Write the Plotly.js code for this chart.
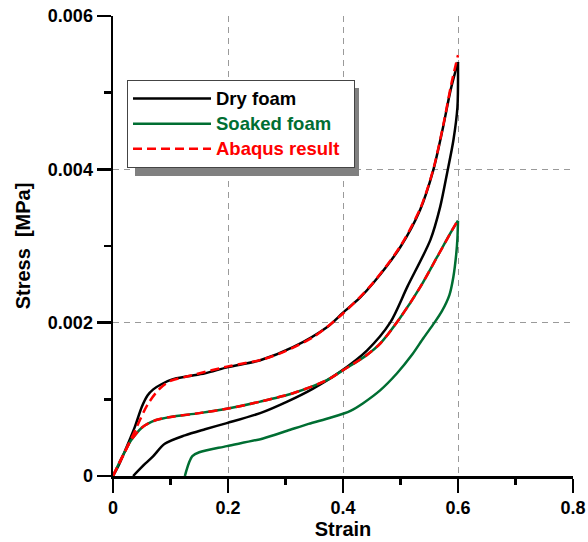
<!DOCTYPE html>
<html>
<head>
<meta charset="utf-8">
<script src="https://cdn.plot.ly/plotly-3.0.1.min.js"></script>
<style>html,body{margin:0;padding:0;background:#fff;}#chart{width:588px;height:542px;}</style>
</head>
<body>
<div id="chart"></div>
<script>
// ---- data ----
const dryLoadStrain   = [0, 0.01, 0.021, 0.038, 0.05, 0.06, 0.07, 0.085, 0.103, 0.13, 0.16, 0.2, 0.256, 0.313, 0.372, 0.4, 0.43, 0.453, 0.5, 0.534, 0.557, 0.574, 0.587, 0.6];
const dryLoadStress   = [0, 0.00014, 0.00033, 0.00064, 0.0009, 0.00105, 0.00113, 0.0012, 0.00126, 0.0013, 0.00134, 0.00142, 0.00151, 0.00168, 0.00194, 0.00213, 0.00233, 0.00252, 0.00299, 0.00347, 0.00399, 0.00455, 0.00503, 0.0054];
const dryUnloadStrain = [0.6, 0.599, 0.592, 0.581, 0.569, 0.552, 0.512, 0.482, 0.442, 0.395, 0.348, 0.303, 0.256, 0.198, 0.16, 0.125, 0.09, 0.07, 0.056, 0.035];
const dryUnloadStress = [0.0054, 0.00481, 0.00438, 0.00395, 0.00351, 0.00308, 0.00247, 0.002, 0.00164, 0.00136, 0.00114, 0.00097, 0.00082, 0.00069, 0.00061, 0.00053, 0.00042, 0.00026, 0.00016, 0];

const soakLoadStrain   = [0, 0.01, 0.02, 0.03, 0.04, 0.05, 0.06, 0.075, 0.1, 0.15, 0.2, 0.256, 0.313, 0.372, 0.4, 0.44, 0.465, 0.5, 0.534, 0.564, 0.587, 0.6];
const soakLoadStress   = [0, 0.00016, 0.00031, 0.00045, 0.00055, 0.00063, 0.00068, 0.00073, 0.00077, 0.00082, 0.00088, 0.00097, 0.00108, 0.00125, 0.00138, 0.00157, 0.00173, 0.00207, 0.00246, 0.00286, 0.00317, 0.00333];
const soakUnloadStrain = [0.6, 0.599, 0.597, 0.592, 0.585, 0.572, 0.559, 0.54, 0.52, 0.494, 0.465, 0.435, 0.413, 0.378, 0.34, 0.303, 0.261, 0.198, 0.15, 0.138, 0.132, 0.128, 0.125];
const soakUnloadStress = [0.00333, 0.0031, 0.0029, 0.0026, 0.00236, 0.00215, 0.002, 0.0018, 0.00158, 0.00134, 0.00112, 0.00095, 0.00085, 0.00076, 0.00068, 0.00059, 0.00049, 0.00039, 0.00031, 0.00026, 0.00017, 0.00008, 0];

const abaqusDryStrain  = [0, 0.01, 0.02, 0.04, 0.06, 0.08, 0.1, 0.13, 0.2, 0.26, 0.3, 0.35, 0.4, 0.45, 0.5, 0.535, 0.557, 0.575, 0.588, 0.6];
const abaqusDryStress  = [0, 0.00015, 0.0003, 0.00062, 0.00093, 0.00113, 0.00124, 0.0013, 0.00143, 0.00152, 0.00163, 0.00182, 0.00212, 0.0025, 0.003, 0.0035, 0.004, 0.0046, 0.0051, 0.00549];
const abaqusSoakStrain = [0, 0.01, 0.02, 0.03, 0.04, 0.05, 0.06, 0.075, 0.1, 0.15, 0.2, 0.256, 0.313, 0.372, 0.4, 0.44, 0.465, 0.5, 0.534, 0.564, 0.587, 0.6];
const abaqusSoakStress = [0, 0.00016, 0.00031, 0.00045, 0.00055, 0.00063, 0.00068, 0.00073, 0.00077, 0.00082, 0.00088, 0.00097, 0.00108, 0.00125, 0.00138, 0.00157, 0.00173, 0.00207, 0.00246, 0.00286, 0.00317, 0.00334];

const seriesNames = ['Dry foam', 'Soaked foam', 'Abaqus result'];
const xRange = [0, 0.8];
const yRange = [0, 0.006];
const xTickVals = [0, 0.2, 0.4, 0.6, 0.8];
const xTickText = ['0', '0.2', '0.4', '0.6', '0.8'];
const xMinorVals = [0.1, 0.3, 0.5, 0.7];
const yTickVals = [0, 0.002, 0.004, 0.006];
const yTickText = ['0', '0.002', '0.004', '0.006'];
const yMinorVals = [0.001, 0.003, 0.005];

// ---- styling ----
const FONT = 'Arial, "Liberation Sans", sans-serif';
const GREEN = '#006e32';
const RED = '#ff0000';

const dryX = dryLoadStrain.concat([null], dryUnloadStrain);
const dryY = dryLoadStress.concat([null], dryUnloadStress);
const soakX = soakLoadStrain.concat([null], soakUnloadStrain);
const soakY = soakLoadStress.concat([null], soakUnloadStress);
const abX = abaqusDryStrain.concat([null], abaqusSoakStrain);
const abY = abaqusDryStress.concat([null], abaqusSoakStress);

function legendName(txt, color) {
  return '<b><span style="font-size:18.5px;color:' + color + '">' + txt + '</span></b>';
}

const traces = [
  {x: dryX, y: dryY, mode: 'lines', connectgaps: false, name: legendName(seriesNames[0], '#000000'),
   line: {color: '#000000', width: 2.5, shape: 'spline', smoothing: 0.8}},
  {x: soakX, y: soakY, mode: 'lines', connectgaps: false, name: legendName(seriesNames[1], GREEN),
   line: {color: GREEN, width: 2.5, shape: 'spline', smoothing: 0.8}},
  {x: abX, y: abY, xaxis: 'x2', yaxis: 'y2', mode: 'lines', connectgaps: false,
   name: legendName(seriesNames[2], RED) + '&nbsp;&nbsp;',
   line: {color: RED, width: 2.5, dash: '9px,5px', shape: 'spline', smoothing: 0.8}}
];

const L = 113, R = 15, T = 16, B = 66;
const W = 588 - L - R, H = 542 - T - B;
function px2x(p) { return (p - L) / W; }
function px2y(p) { return (542 - B - p) / H; }

const axisCommon = {
  showline: true, linecolor: '#000', linewidth: 2.5,
  ticks: 'outside', ticklen: 14, tickwidth: 2.5, tickcolor: '#000',
  showgrid: true, gridcolor: '#9a9a9a', gridwidth: 1, griddash: '6px,5px',
  zeroline: false,
  tickfont: {family: FONT, size: 18, color: '#000', weight: 'bold'},
  tickmode: 'array'
};
const minorAxis = {
  showline: false, showgrid: false, zeroline: false, showticklabels: false,
  ticks: 'outside', ticklen: 8, tickwidth: 2.5, tickcolor: '#000', tickmode: 'array'
};

const layout = {
  width: 588, height: 542,
  margin: {l: L, r: R, t: T, b: B},
  paper_bgcolor: '#fff', plot_bgcolor: '#fff',
  font: {family: FONT, color: '#000'},
  showlegend: true,
  legend: {
    x: px2x(127), y: px2y(80), xanchor: 'left', yanchor: 'top',
    bgcolor: '#ffffff', bordercolor: '#444', borderwidth: 1,
    font: {family: FONT, size: 17, color: '#000'},
    itemwidth: 78, tracegroupgap: 0
  },
  xaxis: Object.assign({}, axisCommon, {
    range: xRange, tickvals: xTickVals, ticktext: xTickText,
    title: {text: '<b>Strain</b>', font: {family: FONT, size: 20, color: '#000'}, standoff: 4}
  }),
  yaxis: Object.assign({}, axisCommon, {
    range: yRange, tickvals: yTickVals, ticktext: yTickText,
    title: {text: '<b>Stress&nbsp;&nbsp;[MPa]</b>', font: {family: FONT, size: 20, color: '#000'}, standoff: 12}
  }),
  xaxis2: Object.assign({}, minorAxis, {overlaying: 'x', anchor: 'y', side: 'bottom', range: xRange, tickvals: xMinorVals}),
  yaxis2: Object.assign({}, minorAxis, {overlaying: 'y', anchor: 'x', side: 'left', range: yRange, tickvals: yMinorVals}),
  shapes: [
    {type: 'rect', xref: 'paper', yref: 'paper', layer: 'above',
     x0: px2x(135), x1: px2x(359), y0: px2y(176), y1: px2y(88),
     fillcolor: '#808080', line: {width: 0}}
  ]
};

Plotly.newPlot('chart', traces, layout, {staticPlot: true, displayModeBar: false});
</script>
</body>
</html>
